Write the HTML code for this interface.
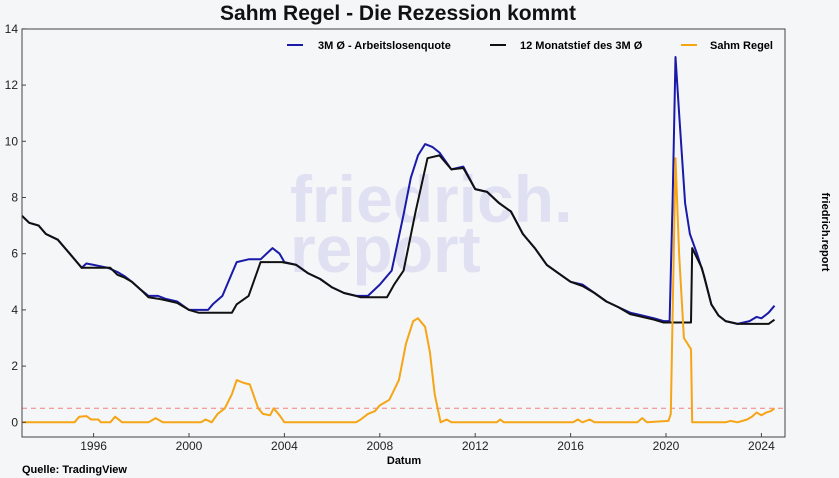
<!DOCTYPE html>
<html><head><meta charset="utf-8"><style>
body{margin:0;background:#f5f6f8;}
svg{display:block;font-family:"Liberation Sans",sans-serif;}
</style></head><body>
<svg id="s" width="839" height="478" viewBox="0 0 839 478" xmlns="http://www.w3.org/2000/svg">
<rect width="839" height="478" fill="#f5f6f8"/>
<text x="398" y="20" font-size="21" font-weight="bold" text-anchor="middle" fill="#111">Sahm Regel - Die Rezession kommt</text>
<text x="290" y="222" font-size="66" font-weight="bold" fill="#dfe1f2">friedrich.</text>
<text x="290" y="272" font-size="66" font-weight="bold" fill="#dfe1f2">report</text>
<g id="plot"></g>
<rect x="22" y="29" width="763" height="408" fill="none" stroke="#444" stroke-width="1"/>
<g font-size="12" fill="#222" text-anchor="end" id="yt"></g>
<g font-size="12" fill="#222" text-anchor="middle" id="xt"></g>
<text x="404" y="464" font-size="11" font-weight="bold" text-anchor="middle">Datum</text>
<text x="22" y="473" font-size="11" font-weight="bold">Quelle: TradingView</text>
<text transform="translate(822,232) rotate(90)" font-size="11" font-weight="bold" text-anchor="middle">friedrich.report</text>
<line x1="287" y1="45" x2="303" y2="45" stroke="#1a1aa8" stroke-width="2"/>
<text x="318" y="49" font-size="11" font-weight="bold">3M Ø - Arbeitslosenquote</text>
<line x1="490" y1="45" x2="506" y2="45" stroke="#111" stroke-width="2"/>
<text x="520" y="49" font-size="11" font-weight="bold">12 Monatstief des 3M Ø</text>
<line x1="681" y1="45" x2="697" y2="45" stroke="#f5a516" stroke-width="2"/>
<text x="710" y="49" font-size="11" font-weight="bold">Sahm Regel</text>
</svg>
<script>
const X=y=>93.6+(y-1996)*23.85, Y=v=>422.3-v*28.1;
const ns="http://www.w3.org/2000/svg";
function path(d,c,w,extra){const p=document.createElementNS(ns,"path");
let s="";for(let i=0;i<d.length;i+=2)s+=(i?"L":"M")+X(d[i]).toFixed(1)+","+Y(d[i+1]).toFixed(1);
p.setAttribute("d",s);p.setAttribute("stroke",c);p.setAttribute("stroke-width",w);p.setAttribute("fill","none");p.setAttribute("stroke-linejoin","round");
if(extra)p.setAttribute("stroke-dasharray",extra);document.getElementById("plot").appendChild(p);}
const blue=[1993,7.35,1993.3,7.1,1993.7,7.0,1994,6.7,1994.5,6.5,1994.8,6.2,1995,6.0,1995.3,5.7,1995.5,5.5,1995.7,5.65,1996,5.6,1996.3,5.55,1996.6,5.5,1997,5.35,1997.3,5.2,1997.6,5.0,1998,4.7,1998.3,4.5,1998.7,4.5,1999,4.4,1999.5,4.3,2000,4.0,2000.5,4.0,2000.8,4.0,2001,4.2,2001.4,4.5,2001.8,5.3,2002,5.7,2002.5,5.8,2003,5.8,2003.5,6.2,2003.8,6.0,2004,5.7,2004.5,5.6,2005,5.3,2005.5,5.1,2006,4.8,2006.5,4.6,2007,4.5,2007.5,4.5,2008,4.9,2008.5,5.4,2009,7.4,2009.3,8.7,2009.6,9.5,2009.9,9.9,2010.2,9.8,2010.5,9.6,2011,9.0,2011.5,9.1,2012,8.3,2012.5,8.2,2013,7.8,2013.5,7.5,2014,6.7,2014.5,6.2,2015,5.6,2015.5,5.3,2016,5.0,2016.5,4.9,2017,4.6,2017.5,4.3,2018,4.1,2018.5,3.9,2019,3.8,2019.5,3.7,2019.9,3.6,2020.15,3.6,2020.28,8,2020.4,13.0,2020.55,11,2020.8,7.8,2021,6.7,2021.3,6.0,2021.6,5.2,2021.9,4.2,2022.2,3.8,2022.5,3.6,2023,3.5,2023.5,3.6,2023.8,3.75,2024,3.7,2024.3,3.9,2024.55,4.15];
const black=[1993,7.35,1993.3,7.1,1993.7,7.0,1994,6.7,1994.5,6.5,1994.8,6.2,1995,6.0,1995.3,5.7,1995.5,5.5,1996.7,5.5,1997,5.25,1997.3,5.15,1997.6,5.0,1998,4.7,1998.3,4.45,1998.7,4.4,1999,4.35,1999.5,4.25,2000,4.0,2000.4,3.9,2001.8,3.9,2002,4.2,2002.5,4.5,2003,5.7,2003.9,5.7,2004.5,5.6,2005,5.3,2005.5,5.1,2006,4.8,2006.5,4.6,2007,4.5,2007.2,4.45,2008.3,4.45,2008.6,4.9,2009,5.4,2009.5,7.5,2010,9.4,2010.5,9.5,2011,9.0,2011.5,9.05,2012,8.3,2012.5,8.2,2013,7.8,2013.5,7.5,2014,6.7,2014.5,6.2,2015,5.6,2015.5,5.3,2016,5.0,2016.5,4.85,2017,4.6,2017.5,4.3,2018,4.1,2018.5,3.85,2019,3.75,2019.5,3.65,2019.9,3.55,2021.05,3.55,2021.1,6.2,2021.5,5.5,2021.9,4.2,2022.2,3.8,2022.5,3.6,2023,3.5,2024.3,3.5,2024.55,3.65];
const sahm=[1993,0,1995.2,0,1995.4,0.2,1995.7,0.22,1995.9,0.1,1996.2,0.1,1996.3,0,1996.7,0,1996.9,0.2,1997.2,0,1998.3,0,1998.6,0.15,1998.9,0,2000.5,0,2000.7,0.1,2000.95,0,2001.2,0.3,2001.5,0.5,2001.8,1.0,2002,1.5,2002.3,1.4,2002.55,1.35,2002.9,0.5,2003.1,0.3,2003.4,0.25,2003.55,0.5,2003.8,0.25,2004,0,2007,0,2007.2,0.1,2007.5,0.3,2007.8,0.4,2008,0.6,2008.4,0.8,2008.8,1.5,2009.1,2.8,2009.4,3.6,2009.6,3.7,2009.9,3.4,2010.1,2.5,2010.3,1.0,2010.55,0,2010.8,0.1,2011.0,0,2012.9,0,2013.05,0.1,2013.2,0,2016.1,0,2016.3,0.1,2016.5,0,2016.8,0.1,2017,0,2018.8,0,2019,0.15,2019.2,0,2020.1,0.05,2020.2,0.3,2020.28,4,2020.4,9.4,2020.55,6.0,2020.75,3.0,2021.05,2.6,2021.1,0,2022.5,0,2022.7,0.05,2023,0,2023.4,0.1,2023.6,0.2,2023.8,0.35,2024,0.25,2024.2,0.35,2024.4,0.4,2024.55,0.5];
path(blue,"#1a1aa8",2);path(black,"#111",2);
path([1993,0.5,2025.08,0.5],"#f08080",1,"5,4");
path(sahm,"#f5a516",2);
const yt=document.getElementById("yt");
for(let v=0;v<=14;v+=2){const t=document.createElementNS(ns,"text");t.setAttribute("x",18);t.setAttribute("y",Y(v)+4);t.textContent=v;yt.appendChild(t);
const l=document.createElementNS(ns,"line");l.setAttribute("x1",22);l.setAttribute("x2",26);l.setAttribute("y1",Y(v));l.setAttribute("y2",Y(v));l.setAttribute("stroke","#444");document.getElementById("plot").appendChild(l);}
const xt=document.getElementById("xt");
for(let y=1996;y<=2024;y+=4){const t=document.createElementNS(ns,"text");t.setAttribute("x",X(y));t.setAttribute("y",450);t.textContent=y;xt.appendChild(t);
const l=document.createElementNS(ns,"line");l.setAttribute("x1",X(y));l.setAttribute("x2",X(y));l.setAttribute("y1",437);l.setAttribute("y2",433);l.setAttribute("stroke","#444");document.getElementById("plot").appendChild(l);}
</script>
</body></html>
